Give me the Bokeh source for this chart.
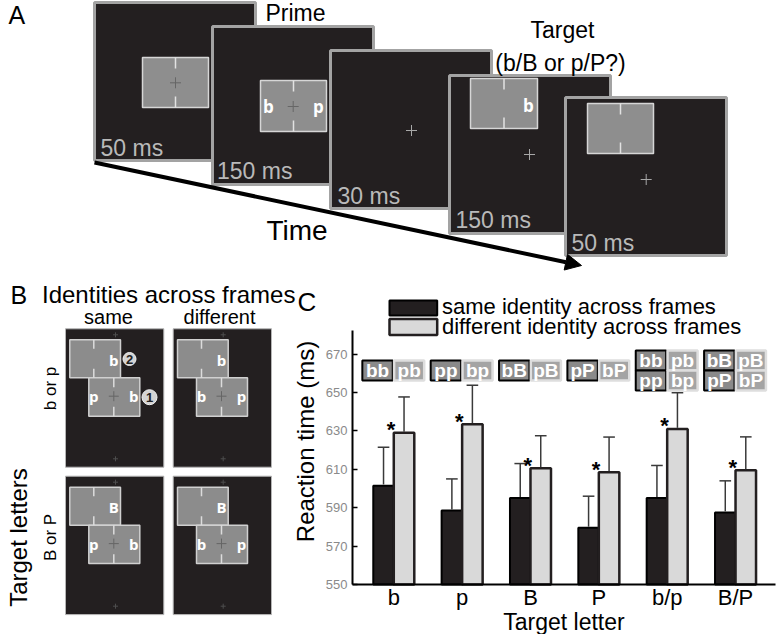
import numpy as np
from bokeh.plotting import figure
from bokeh.models import Range1d, FixedTicker, Arrow, NormalHead, LinearAxis
from bokeh.core.properties import value
from bokeh.embed import file_html
from bokeh.resources import INLINE

# ---------------- data (panel C) ----------------
categories = ["b", "p", "B", "P", "b/p", "B/P"]
same_rt = [601.5, 588.5, 595.0, 579.5, 595.0, 587.5]
same_err = [20.0, 16.5, 18.0, 16.5, 17.0, 16.5]
diff_rt = [629.0, 633.5, 610.5, 608.5, 631.0, 609.5]
diff_err = [18.7, 20.3, 17.0, 18.3, 18.9, 17.4]
y_ticks = [550, 570, 590, 610, 630, 650, 670]
same_icons = [["bb"], ["pp"], ["bB"], ["pP"], ["bb", "pp"], ["bB", "pP"]]
diff_icons = [["pb"], ["bp"], ["pB"], ["bP"], ["pb", "bp"], ["pB", "bP"]]
legend_labels = ["same identity across frames", "different identity across frames"]

# ---------------- panel A / B text ----------------
frame_durations = ["50 ms", "150 ms", "30 ms", "150 ms", "50 ms"]
b_columns = ["same", "different"]
b_rows = ["b or p", "B or P"]

DARK = "#231f20"
FONT = value("Liberation Sans")
BOLDF = value("Open Sans")
MID = 0.33  # baseline -> middle anchor, in em

# panel C scale: category 1 at x=393.3 px, 68.35 px per category; 550 ms at y=584 px, 1.92 px per ms
PX_CAT, PX_MS = 68.35, 1.9197
CAT_AT_352 = 0.396
cat_range = Range1d(CAT_AT_352 - 352 / PX_CAT, CAT_AT_352 + (776 - 352) / PX_CAT)
rt_range = Range1d(550 - (634 - 584) / PX_MS, 550 + 584 / PX_MS)

p = figure(width=776, height=634, x_range=Range1d(0, 776), y_range=Range1d(634, 0),
           output_backend="svg", toolbar_location=None, min_border=0,
           x_axis_location=None, y_axis_location=None, outline_line_color=None)
p.xgrid.visible = False
p.ygrid.visible = False
p.extra_x_ranges = {"cat": cat_range}
p.extra_y_ranges = {"rt": rt_range}


def txt(xs, baselines, texts, size, align="left", **kw):
    # pixel coordinates, y = reference baseline (inverted range: up = minus)
    p.text(x=xs, y=[b - MID * size for b in baselines], text=texts, text_font=kw.pop("font", FONT),
           text_font_size=f"{size}px", text_align=align, text_baseline="middle", **kw)


# =============== Panel A ===============
fx = [94, 212, 330, 449, 565]
fy = [2, 26, 50, 75, 97]
p.quad(left=fx, right=[v + 161 for v in fx], top=fy, bottom=[v + 158 for v in fy],
       fill_color=DARK, line_color="#a3a3a3", line_width=3)
rects = [(142, 208, 57, 107), (260, 326, 80, 131), (470, 537, 78, 128), (587, 653, 103, 153)]
p.quad(left=[r[0] for r in rects], right=[r[1] for r in rects],
       top=[r[2] for r in rects], bottom=[r[3] for r in rects],
       fill_color="#8e8e8e", line_color="#d6d6d6", line_width=1.5)
cxs = [(r[0] + r[1]) / 2 for r in rects]
p.segment(x0=cxs + cxs, x1=cxs + cxs,
          y0=[r[2] for r in rects] + [r[3] - 11 for r in rects],
          y1=[r[2] + 11 for r in rects] + [r[3] for r in rects],
          line_color="#e2e2e2", line_width=1.5)
p.scatter(x=[175, 292.7], y=[82.3, 106], marker="cross", size=11, line_color="#666666", line_width=1)
p.scatter(x=[411, 529, 645.7], y=[130, 154, 179], marker="cross", size=11, line_color="#a8a8a8", line_width=1)
p.text(x=[268, 318, 528], y=[106, 106, 105], text=["b", "p", "b"], text_font=BOLDF,
       text_font_style="bold", text_font_size="17px", text_color="white",
       text_align="center", text_baseline="middle")
txt([100, 216.5, 337, 455, 571], [155, 178, 203, 227, 250.5], frame_durations, 23, text_color="#b9b9b9")
txt([8], [23], ["A"], 25)
txt([265], [20], ["Prime"], 23)
txt([562, 560], [37, 70], ["Target", "(b/B or p/P?)"], 23, align="center")
txt([266], [239], ["Time"], 28)
p.add_layout(Arrow(x_start=94, y_start=162, x_end=581, y_end=265, line_width=4, line_color="black",
                   end=NormalHead(size=16, fill_color="black", line_color="black")))

# =============== Panel B ===============
txt([10], [303], ["B"], 25)
txt([41.5], [302], ["Identities across frames"], 24)
txt([108, 219], [323, 323], b_columns, 20, align="center")
p.text(x=[18], y=[537], text=["Target letters"], angle=np.pi / 2, text_font=FONT,
       text_font_size="24px", text_align="center", text_baseline="middle")
p.text(x=[50, 50], y=[388, 537], text=b_rows, angle=np.pi / 2, text_font=FONT,
       text_font_size="17px", text_align="center", text_baseline="middle")

bx = [65, 172.7]
by = [328.3, 475.7]
upper_letter = [["b", "b"], ["B", "B"]]
lower_letters = [[("p", "b"), ("b", "p")], [("p", "b"), ("b", "p")]]
for ri, y0 in enumerate(by):
    for ci, x0 in enumerate(bx):
        p.quad(left=[x0], right=[x0 + 98.3], top=[y0], bottom=[y0 + 138.4],
               fill_color=DARK, line_color="#b5b5b5", line_width=1)
        p.scatter(x=[x0 + 50, x0 + 50], y=[y0 + 6, y0 + 130], marker="cross", size=5,
                  line_color="#4e4e4e", line_width=1)
        p.quad(left=[x0 + 4.3, x0 + 23.3], right=[x0 + 55, x0 + 74.3],
               top=[y0 + 11, y0 + 49], bottom=[y0 + 49, y0 + 87.4],
               fill_color="#8c8c8c", line_color="#d0d0d0", line_width=1.5)
        p.segment(x0=[x0 + 28.3] * 2 + [x0 + 48.3] * 2, x1=[x0 + 28.3] * 2 + [x0 + 48.3] * 2,
                  y0=[y0 + 11, y0 + 40, y0 + 49, y0 + 78], y1=[y0 + 20, y0 + 49, y0 + 58.4, y0 + 87.4],
                  line_color="#dcdcdc", line_width=1.5)
        p.scatter(x=[x0 + 48.3], y=[y0 + 67.4], marker="cross", size=10, line_color="#666666", line_width=1)
        l1, l2 = lower_letters[ri][ci]
        p.text(x=[x0 + 48.3, x0 + 28.3, x0 + 68.3], y=[y0 + 30.7, y0 + 67.4, y0 + 67.4],
               text=[upper_letter[ri][ci], l1, l2], text_font=BOLDF, text_font_style="bold",
               text_font_size="15px", text_color="white", text_align="center", text_baseline="middle")
p.scatter(x=[129, 149], y=[358.5, 396.7], marker="circle", size=[13, 15],
          fill_color="#d4d4d4", line_color="#f0f0f0", line_width=1)
p.text(x=[129, 149], y=[359, 397.2], text=["2", "1"], text_font=FONT, text_font_style="bold",
       text_font_size="13px", text_color="#222222", text_align="center", text_baseline="middle")

# =============== Panel C ===============
txt([297], [310], ["C"], 26)
p.text(x=[305], y=[441], text=["Reaction time (ms)"], angle=np.pi / 2, text_font=FONT,
       text_font_size="24px", text_align="center", text_baseline="middle")

# legend (pixel layout)
p.quad(left=[389], right=[436.7], top=[300], bottom=[315], fill_color=DARK, line_color="black", line_width=2)
p.quad(left=[389], right=[436.7], top=[318.5], bottom=[334.5], fill_color="#d9d9d9",
       line_color=DARK, line_width=2.5)
txt([441.5, 441.5], [313.3, 333.3], legend_labels, 22)

C = dict(x_range_name="cat", y_range_name="rt")
xc = np.arange(1, len(categories) + 1, dtype=float)
same_rt_a = np.array(same_rt)
diff_rt_a = np.array(diff_rt)
same_top = same_rt_a + np.array(same_err)
diff_top = diff_rt_a + np.array(diff_err)

p.vbar(x=xc - 0.15, top=same_rt_a, bottom=550, width=0.3, fill_color=DARK,
       line_color="black", line_width=2, **C)
p.vbar(x=xc + 0.15, top=diff_rt_a, bottom=550, width=0.3, fill_color="#d9d9d9",
       line_color=DARK, line_width=2.5, **C)

ex = np.concatenate([xc - 0.15, xc + 0.15])
ey0 = np.concatenate([same_rt_a, diff_rt_a])
ey1 = np.concatenate([same_top, diff_top])
p.segment(x0=ex, x1=ex, y0=ey0 + 0.6, y1=ey1, line_color="#3a3a3a", line_width=1.5, **C)
p.segment(x0=ex - 0.085, x1=ex + 0.085, y0=ey1, y1=ey1, line_color="#3a3a3a", line_width=1.5, **C)

p.text(x=xc - 0.04, y=diff_rt_a + 1.6, text=["*"] * len(categories), text_font=FONT,
       text_font_style="bold", text_font_size="22px", text_align="center", text_baseline="middle", **C)

ICON_MID, ROW_H = 661.5, 10.4
for i, c in enumerate(xc):
    for icons, (l, r), fill, edge, lw in (
            (same_icons[i], (c - 0.46, c - 0.015), "#8a8a8a", "black", 2),
            (diff_icons[i], (c + 0.005, c + 0.445), "#a4a4a4", "#dedede", 2.5)):
        n = len(icons)
        tops = [ICON_MID + ROW_H * n / 2 - ROW_H * k for k in range(n)]
        bots = [t - ROW_H for t in tops]
        p.quad(left=[l] * n, right=[r] * n, top=tops, bottom=bots,
               fill_color=fill, line_color=edge, line_width=lw, **C)
        p.text(x=[(l + r) / 2] * n, y=[(t + b) / 2 for t, b in zip(tops, bots)], text=icons,
               text_font=FONT, text_font_style="bold", text_font_size="19px", text_color="white",
               text_align="center", text_baseline="middle", **C)

# axes of panel C, pinned at the panel's own origin
xaxis = LinearAxis(x_range_name="cat", y_range_name="rt", fixed_location=550,
                   bounds=(CAT_AT_352, CAT_AT_352 + (775 - 352) / PX_CAT),
                   ticker=FixedTicker(ticks=list(xc)),
                   major_label_overrides={float(v): lab for v, lab in zip(xc, categories)},
                   major_label_text_font="Liberation Sans", major_label_text_font_size="22px",
                   major_label_text_color="black", major_label_standoff=-6,
                   major_tick_line_color=None, minor_tick_line_color=None,
                   axis_line_width=2, axis_line_color="black",
                   axis_label="Target letter", axis_label_text_font="Liberation Sans",
                   axis_label_text_font_style="normal", axis_label_text_font_size="23px",
                   axis_label_text_color="black", axis_label_standoff=-4)
yaxis = LinearAxis(x_range_name="cat", y_range_name="rt", fixed_location=CAT_AT_352,
                   bounds=(550, 682.5), ticker=FixedTicker(ticks=y_ticks),
                   major_tick_in=5, major_tick_out=0, major_tick_line_width=1.5,
                   major_tick_line_color="black", minor_tick_line_color=None,
                   major_label_text_font="Liberation Sans", major_label_text_font_size="13px",
                   major_label_text_color="#8a8a8a", major_label_standoff=5,
                   axis_line_width=2, axis_line_color="black")
p.add_layout(xaxis, "below")
p.add_layout(yaxis, "left")

open("out.html", "w").write(file_html(p, INLINE))
